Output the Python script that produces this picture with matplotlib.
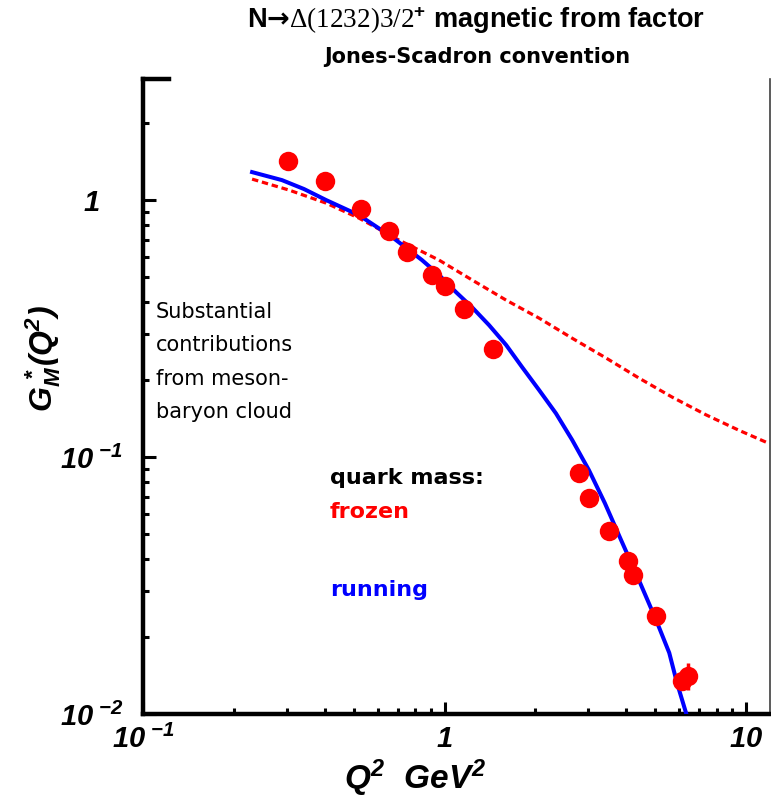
import matplotlib
matplotlib.use("Agg")
import matplotlib.pyplot as plt
from matplotlib.ticker import FixedLocator, FixedFormatter, NullFormatter
from matplotlib.lines import Line2D

plt.rcParams['mathtext.fontset'] = 'custom'
plt.rcParams['mathtext.rm'] = 'Liberation Serif'
plt.rcParams['mathtext.sf'] = 'Liberation Sans:italic:bold'
plt.rcParams['mathtext.bf'] = 'Liberation Sans:bold'
plt.rcParams['mathtext.it'] = 'Liberation Sans:italic:bold'
plt.rcParams['mathtext.cal'] = 'DejaVu Sans:bold'

# ---- data ----
data_q2 = [0.303, 0.402, 0.528, 0.655, 0.751, 0.909, 1.00, 1.16, 1.45,
           2.79, 3.01, 3.51, 4.06, 4.22, 5.03, 6.13, 6.42]
data_gm = [1.42, 1.19, 0.92, 0.757, 0.628, 0.511, 0.463, 0.377, 0.263,
           0.0867, 0.0692, 0.0515, 0.0394, 0.0347, 0.0241, 0.0134, 0.0141]
data_err = [0, 0, 0, 0, 0, 0, 0, 0, 0,
            0, 0, 0, 0, 0, 0, 0, 0.0017]

running_q2 = [0.230, 0.289, 0.342, 0.405, 0.520, 0.670, 0.842, 0.959, 1.092,
              1.233, 1.405, 1.60, 1.807, 2.06, 2.34, 2.65, 3.01, 3.40, 3.85,
              4.41, 5.03, 5.56, 5.90, 6.32]
running_gm = [1.285, 1.196, 1.104, 1.0, 0.874, 0.718, 0.584, 0.511, 0.438,
              0.383, 0.326, 0.273, 0.224, 0.182, 0.148, 0.1165, 0.089, 0.0662,
              0.0475, 0.0332, 0.0232, 0.0173, 0.0132, 0.0101]

frozen_q2 = [0.230, 0.305, 0.405, 0.520, 0.706, 0.959, 1.233, 1.60, 2.06,
             2.65, 3.43, 4.41, 5.69, 7.36, 9.48, 11.9]
frozen_gm = [1.207, 1.094, 0.973, 0.851, 0.699, 0.584, 0.489, 0.408, 0.347,
             0.290, 0.243, 0.203, 0.171, 0.146, 0.127, 0.113]

x_major = [0.1, 1, 10]
x_major_labels = [r"$\mathsf{10}^{\ \mathsf{-1}}$", r"$\mathsf{1}$", r"$\mathsf{10}$"]
y_major = [0.01, 0.1, 1]
y_major_labels = [r"$\mathsf{10}^{\ \mathsf{-2}}$", r"$\mathsf{10}^{\ \mathsf{-1}}$", r"$\mathsf{1}$"]

title_text = r"N$\mathcal{→}\mathrm{Δ(1232)3/2}^{\mathbf{+}}$ magnetic from factor"
subtitle_text = "Jones-Scadron convention"
note_lines = ["Substantial", "contributions", "from meson-", "baryon cloud"]

# ---- figure ----
fig = plt.figure(figsize=(7.71, 7.98), dpi=100)
ax = fig.add_axes([143/771, 1-714/798, (770-143)/771, (714-79)/798])
ax.set_xscale('log')
ax.set_yscale('log')
ax.set_xlim(0.1, 12.0)
ax.set_ylim(0.01, 2.96)

ax.plot(frozen_q2, frozen_gm, color='#ff0000', lw=2.3, dashes=(2.0, 1.2), zorder=2)
ax.plot(running_q2, running_gm, color='#0000ff', lw=2.9, zorder=3,
        solid_joinstyle='round')
ax.errorbar(data_q2, data_gm, yerr=data_err, fmt='o', color='#ff0000', ms=14,
            mec='none', elinewidth=2.5, capsize=0, zorder=4)

# spines
for s in ['left', 'bottom']:
    ax.spines[s].set_linewidth(3.2)
ax.spines['top'].set_visible(False)
ax.spines['right'].set_linewidth(1.2)
ax.spines['right'].set_color('#404040')
ax.add_line(Line2D([0, 26/627], [1, 1], transform=ax.transAxes, color='black',
                   lw=3.2, solid_capstyle='projecting', clip_on=False))

ax.xaxis.set_major_locator(FixedLocator(x_major))
ax.xaxis.set_major_formatter(FixedFormatter(x_major_labels))
ax.yaxis.set_major_locator(FixedLocator(y_major))
ax.yaxis.set_major_formatter(FixedFormatter(y_major_labels))
ax.xaxis.set_minor_formatter(NullFormatter())
ax.yaxis.set_minor_formatter(NullFormatter())
ax.tick_params(which='major', direction='in', length=9, width=2.2, labelsize=21,
               top=False, right=False)
ax.tick_params(which='minor', direction='in', length=4.5, width=2.2,
               top=False, right=False)
ax.tick_params(axis='x', which='major', pad=8)
ax.tick_params(axis='y', which='major', pad=37)
for lab in ax.get_yticklabels():
    lab.set_horizontalalignment('center')

ax.set_xlabel(r"$\mathsf{Q^{2}\ \ GeV^{2}}$", fontsize=24)
ax.xaxis.set_label_coords(0.433, -0.068)
ax.set_ylabel(r"$\mathsf{G_{M}^{\,*}(Q^{2})}$", fontsize=23)
ax.yaxis.set_label_coords(-0.128, 0.56)

# titles
fig.text(476/771, 1-20/798, title_text, ha='center', va='center',
         family=['Liberation Sans', 'DejaVu Sans'], weight='bold', fontsize=19.5)
fig.text(477/771, 1-57/798, subtitle_text, ha='center', va='center',
         family='DejaVu Sans', weight='bold', fontsize=15)

# annotations
for i, line in enumerate(note_lines):
    fig.text(156/771, 1-(312 + 33.5*i)/798, line, ha='left', va='center',
             family='DejaVu Sans', fontsize=15, color='black')
fig.text(330/771, 1-478/798, "quark mass:", ha='left', va='center',
         family='DejaVu Sans', weight='bold', fontsize=16, color='black')
fig.text(330/771, 1-512/798, "frozen", ha='left', va='center',
         family='DejaVu Sans', weight='bold', fontsize=16, color='#ff0000')
fig.text(330/771, 1-590/798, "running", ha='left', va='center',
         family='DejaVu Sans', weight='bold', fontsize=16, color='#0000ff')

fig.savefig("out.png", dpi=100)
